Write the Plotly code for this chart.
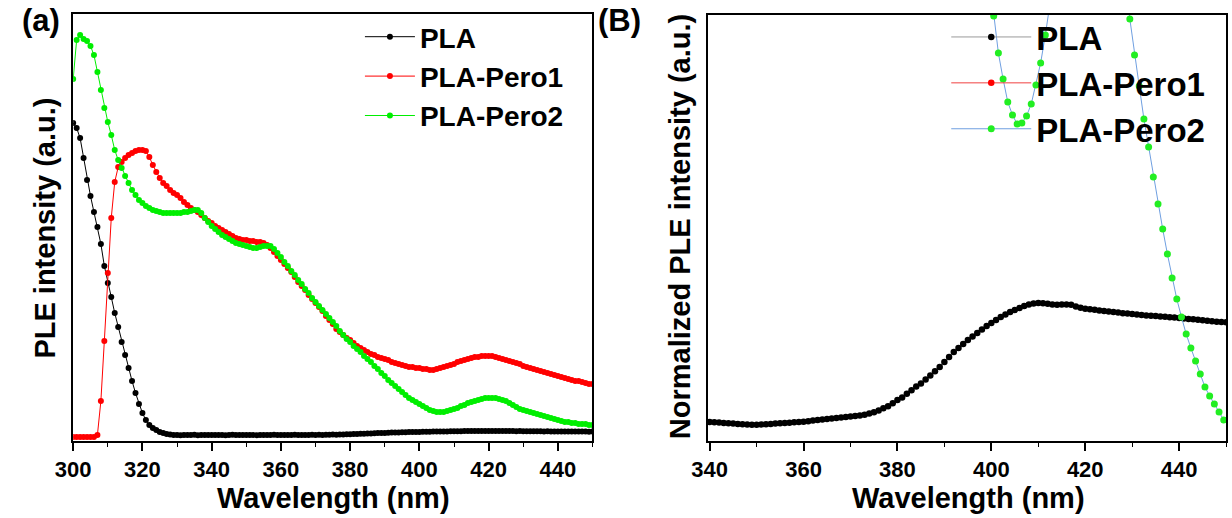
import plotly.graph_objects as go

# ---------------- data ----------------
# Panel (a): PLE spectra, wavelength grid 300..450 nm (1 nm step)
wl_a = list(range(300, 451))

pla_a = [
    318, 313, 303, 283, 261, 245, 229, 214, 197, 175,
    158, 144, 128, 114, 99, 86, 73, 60, 48, 37,
    28, 21, 16, 13, 11, 9, 8, 7, 6.5, 6,
    6.0, 5.8, 6.1, 5.9, 6.0, 6.2, 5.8, 6.0, 6.1, 5.9,
    6.0, 5.9, 6.1, 6.0, 5.8, 6.0, 6.2, 5.9, 6.0, 6.1,
    5.9, 6.0, 6.1, 5.8, 6.0, 6.1, 5.9, 6.0, 6.2, 6.0,
    5.9, 6.1, 6.0, 6.0, 6.2, 5.9, 6.1, 6.0, 6.1, 6.2,
    6.1, 6.2, 6.1, 6.3, 6.2, 6.4, 6.3, 6.5, 6.6, 6.7,
    6.8, 6.9, 7.0, 7.2, 7.3, 7.5, 7.6, 7.8, 7.9, 8.0,
    8.1, 8.3, 8.4, 8.5, 8.6, 8.7, 8.8, 8.9, 9.0, 9.1,
    9.1, 9.2, 9.3, 9.3, 9.4, 9.5, 9.5, 9.6, 9.6, 9.7,
    9.7, 9.8, 9.8, 9.9, 9.9, 10.0, 10.0, 10.1, 10.0, 10.1,
    10.1, 10.0, 10.1, 10.0, 9.9, 10.0, 9.9, 9.9, 9.8, 9.9,
    9.8, 9.8, 9.7, 9.8, 9.7, 9.7, 9.6, 9.7, 9.6, 9.6,
    9.6, 9.5, 9.6, 9.5, 9.5, 9.4, 9.5, 9.4, 9.4, 9.3,
    9.4,
]

pero1_a = [
    4, 4, 4, 4, 4, 4, 4, 6, 40, 100,
    168, 223, 259, 274, 279, 283, 286, 288, 290, 291,
    291, 290, 284, 276, 269, 263, 258, 255, 251, 248,
    246, 243, 239, 236, 233, 231, 229, 226, 223, 220,
    218, 215, 213, 211, 209, 207, 205, 203, 202, 201,
    201, 200, 200, 199, 199, 198, 196, 193, 189, 185,
    181, 177, 173, 169, 164, 159, 155, 151, 146, 142,
    138, 134, 130, 125, 121, 117, 112, 109, 106, 103,
    101, 98, 95, 93, 91, 89, 87, 86, 84, 83,
    82, 81, 79, 78, 77, 76, 75, 74, 74, 73,
    73, 72, 72, 71, 71, 72, 73, 74, 75, 76,
    77, 79, 80, 81, 82, 83, 84, 84, 85, 85,
    85, 85, 84, 83, 82, 81, 80, 79, 78, 77,
    75, 74, 73, 72, 71, 70, 69, 68, 67, 66,
    65, 64, 63, 62, 61, 60, 60, 59, 58, 57,
    57,
]

pero2_a = [
    362, 401, 406, 402, 400, 395, 386, 369, 351, 333,
    319, 306, 291, 281, 273, 265, 258, 251, 246, 241,
    238, 235, 233, 231, 230, 229, 228, 228, 228, 228,
    228, 228, 229, 229, 230, 231, 231, 228, 223, 219,
    215, 212, 209, 206, 204, 202, 200, 198, 197, 196,
    195, 194, 193, 193, 194, 195, 195, 195, 192, 188,
    184, 179, 175, 170, 166, 161, 157, 152, 148, 143,
    139, 135, 131, 127, 123, 119, 115, 110, 106, 102,
    99, 95, 92, 89, 85, 82, 79, 75, 72, 68,
    65, 61, 58, 55, 52, 49, 46, 43, 41, 39,
    37, 35, 33, 31, 30, 29, 29, 29, 30, 31,
    32, 33, 35, 36, 38, 39, 40, 41, 42, 43,
    43, 43, 43, 42, 41, 40, 38, 36, 34, 32,
    31, 30, 29, 28, 27, 26, 25, 24, 23, 22,
    21, 20, 19, 19, 18, 18, 17, 17, 17, 16,
    16,
]

# Panel (B): normalized PLE
wl_b_pla = list(range(340, 451))
pla_b = [
    19, 18.7, 18.4, 18, 17.8, 17.5, 17, 16.7, 16.5, 16.3,
    16.3, 16.5, 16.8, 17.1, 17.4, 17.7, 18, 18.3, 18.7, 19,
    19.3, 19.8, 20.4, 21, 21.5, 22, 22.5, 23, 23.4, 23.9,
    24.4, 24.9, 25.4, 26.2, 27.4, 28.7, 30.5, 32.7, 34.8, 37.7,
    41, 43.6, 47.2, 50.8, 54.4, 57.5, 61.5, 65.5, 69.7, 74,
    79, 84, 89, 93, 97, 101, 104.5, 108, 111.5, 115,
    118, 121, 124, 126.5, 129, 131, 133, 135, 136.5, 137.5,
    138, 137.8, 137.2, 136.5, 136.3, 136.5, 136.6, 136.2, 134.5, 133.2,
    132.2, 131.7, 131.2, 130.6, 130, 129.5, 129, 128.5, 127.8, 127.4,
    127, 126.5, 126, 125.6, 125.3, 125, 124.6, 124.2, 123.8, 123.4,
    123, 122.6, 122, 121.7, 121.2, 120.7, 120.2, 119.7, 119.2, 118.9,
    118.7,
]

wl_b_pero1 = [None]
pero1_b = [None]

wl_b_pero2 = [399.5 + i for i in range(51)]
pero2_b = [
    467, 425, 388, 362, 339, 326, 317, 318, 325, 337,
    356, 378, 406, 440,
    480, 520, 555, 585, 610, 628, 640, 646, 646, 640, 628, 610, 585, 555, 520, 485,
    422, 386, 355, 322, 294, 264, 237, 212, 187, 163,
    142, 124, 107, 93, 80, 67, 54, 45, 37, 29,
    21,
]

names = ["PLA", "PLA-Pero1", "PLA-Pero2"]

# ---------------- figure ----------------
W, H = 1232, 518
FONT = "Arial, Liberation Sans, sans-serif"

def px_x(p):
    return p / W

def px_y(p):
    return 1 - p / H

fig = go.Figure()

# Panel (a)
cols_a = ["#000000", "#ff0000", "#00ee00"]
for nm, ys, c in zip(names, [pla_a, pero1_a, pero2_a], cols_a):
    fig.add_trace(go.Scatter(
        x=wl_a, y=ys, name=f"<b>{nm}</b>", mode="lines+markers",
        line=dict(color=c, width=1), marker=dict(color=c, size=6),
        xaxis="x", yaxis="y", legend="legend"))

# Panel (B)
fig.add_trace(go.Scatter(
    x=wl_b_pla, y=pla_b, name="<b>PLA</b>", mode="lines+markers",
    line=dict(color="#9a9a9a", width=1), marker=dict(color="#000000", size=6.5),
    xaxis="x2", yaxis="y2", legend="legend2"))
fig.add_trace(go.Scatter(
    x=wl_b_pero1, y=pero1_b, name="<b>PLA-Pero1</b>", mode="lines+markers",
    line=dict(color="#f04040", width=1), marker=dict(color="#ff0000", size=6.5),
    xaxis="x2", yaxis="y2", legend="legend2"))
fig.add_trace(go.Scatter(
    x=wl_b_pero2, y=pero2_b, name="<b>PLA-Pero2</b>", mode="lines+markers",
    line=dict(color="#6f9fe0", width=1), marker=dict(color="#22ee22", size=7),
    xaxis="x2", yaxis="y2", legend="legend2"))

axis_common = dict(showline=True, linecolor="black", linewidth=1.5, mirror=True,
                   showgrid=False, zeroline=False)

xcommon = dict(axis_common, ticks="outside", ticklen=8, tickwidth=1.5, tickcolor="black",
               dtick=20, tickfont=dict(family=FONT, size=22, color="black", weight="bold"),
               minor=dict(ticks="outside", ticklen=4, tickwidth=1.2, tickcolor="black", dtick=10,
                          showgrid=False))

fig.update_layout(
    width=W, height=H,
    margin=dict(l=0, r=0, t=0, b=0),
    paper_bgcolor="white", plot_bgcolor="white",
    showlegend=True,
    xaxis=dict(xcommon, domain=[px_x(56), px_x(583)], range=[300, 450], tick0=300,
               anchor="y"),
    yaxis=dict(axis_common, domain=[px_y(441), px_y(14)], range=[0, 427],
               showticklabels=False, ticks="", anchor="x"),
    xaxis2=dict(xcommon, domain=[px_x(700), px_x(1226)], range=[339.6, 450], tick0=340,
                anchor="y2"),
    yaxis2=dict(axis_common, domain=[px_y(441), px_y(15)], range=[0, 426],
                showticklabels=False, ticks="", anchor="x2"),
    legend=dict(x=px_x(347), y=px_y(12), xanchor="left", yanchor="top",
                bgcolor="rgba(0,0,0,0)", borderwidth=0, itemwidth=50,
                font=dict(family=FONT, size=28, color="black"), tracegroupgap=0),
    legend2=dict(x=px_x(942), y=px_y(9), xanchor="left", yanchor="top",
                 bgcolor="rgba(0,0,0,0)", borderwidth=0, itemwidth=80,
                 font=dict(family=FONT, size=33, color="black"), tracegroupgap=0),
)

ann_font = dict(family=FONT, color="black")
annotations = [
    dict(text="<b>(a)</b>", x=px_x(2), y=px_y(20), xanchor="left", yanchor="middle",
         font=dict(ann_font, size=31)),
    dict(text="<b>(B)</b>", x=px_x(587), y=px_y(20), xanchor="left", yanchor="middle",
         font=dict(ann_font, size=31)),
    dict(text="<b>PLE intensity (a.u.)</b>", x=px_x(27), y=px_y(228), textangle=-90,
         xanchor="center", yanchor="middle", font=dict(ann_font, size=29)),
    dict(text="<b>Normalized PLE intensity (a.u.)</b>", x=px_x(672), y=px_y(227), textangle=-90,
         xanchor="center", yanchor="middle", font=dict(ann_font, size=29)),
    dict(text="<b>Wavelength (nm)</b>", x=px_x(320), y=px_y(498),
         xanchor="center", yanchor="middle", font=dict(ann_font, size=29)),
    dict(text="<b>Wavelength (nm)</b>", x=px_x(965), y=px_y(498),
         xanchor="center", yanchor="middle", font=dict(ann_font, size=29)),
]
for a in annotations:
    a.update(xref="paper", yref="paper", showarrow=False)
fig.update_layout(annotations=annotations)

fig.write_html("out.html")
